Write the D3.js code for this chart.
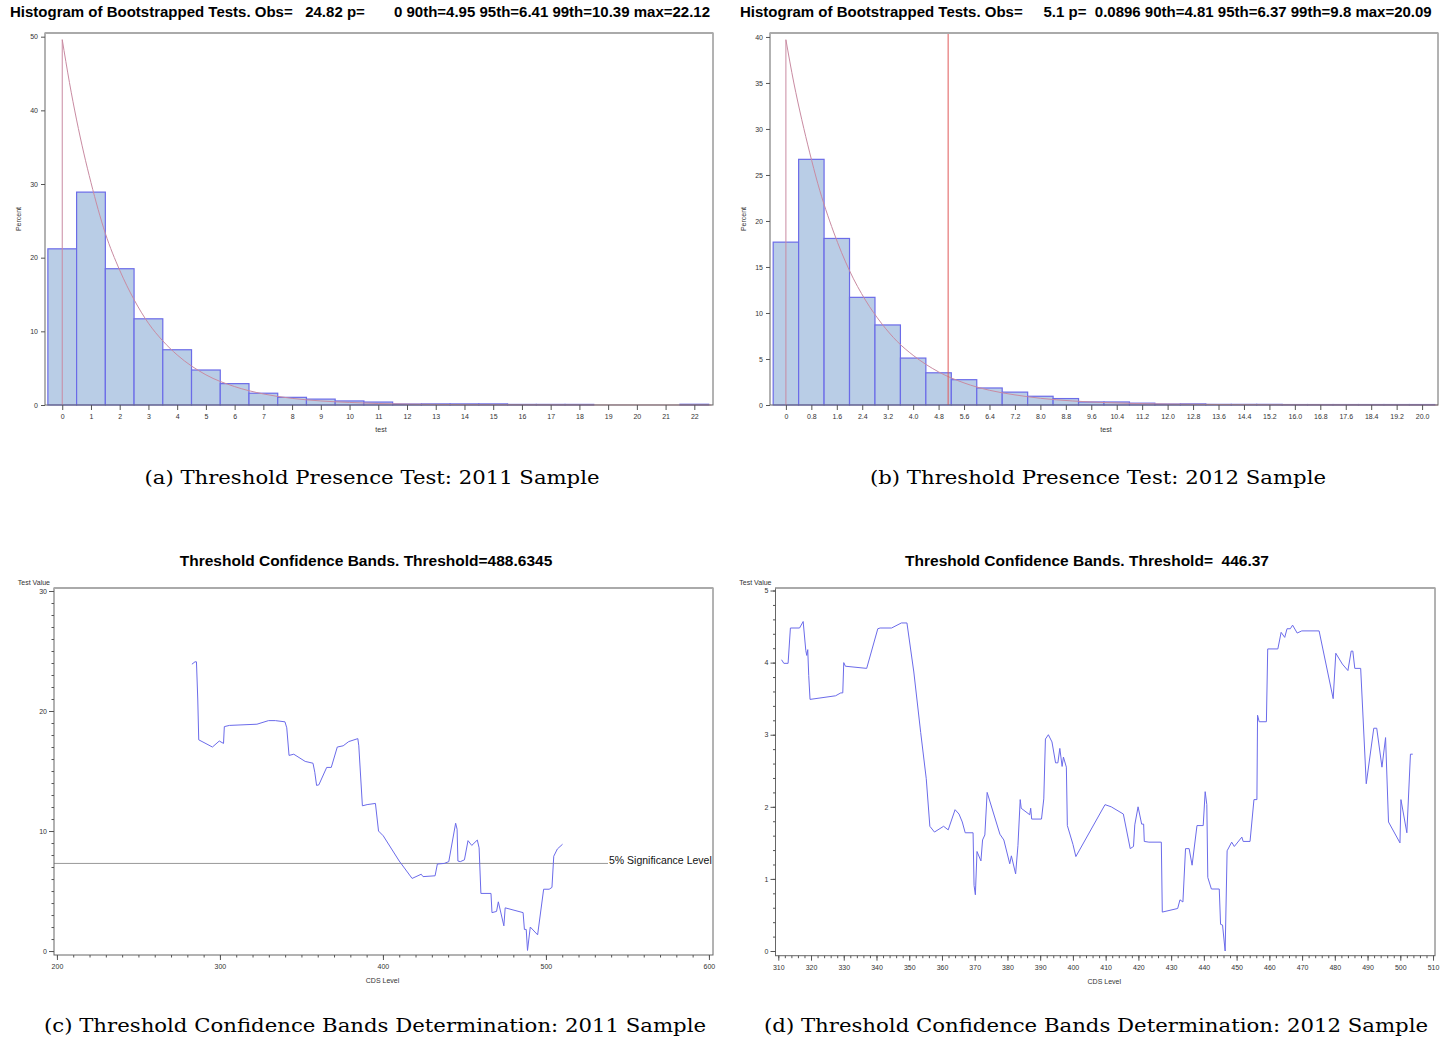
<!DOCTYPE html>
<html>
<head>
<meta charset="utf-8">
<script src="https://cdn.jsdelivr.net/npm/d3@7"></script>
<style>
  body { margin: 0; background: #fff; }
  text { font-family: "Liberation Sans", Arial, sans-serif; }
  .pre { white-space: pre; }
  .cap { font-family: "DejaVu Serif", "Liberation Serif", serif; font-size: 19px; }
</style>
</head>
<body>
<script>
// --- panel (a): 2011 bootstrap histogram ---
const bins2011 = [0, 1, 2, 3, 4, 5, 6, 7, 8, 9, 10, 11, 12, 13, 14, 15, 16, 17, 18, 19, 20, 21, 22];
const pct2011 = [21.2, 28.9, 18.5, 11.7, 7.5, 4.75, 2.9, 1.6, 1.04, 0.8, 0.55, 0.4, 0.13, 0.15, 0.15, 0.15, 0.08, 0.08, 0.08, 0, 0, 0, 0.1];
const curveX2011 = [0, 0, 0.25, 0.5, 0.75, 1, 1.5, 2, 2.5, 3, 3.5, 4, 5, 6, 7, 8, 9, 10, 11, 12, 14, 16, 18, 22.6];
const curveY2011 = [0, 49.6, 43.8, 38.7, 34.2, 30.2, 23.3, 18.3, 14.3, 11.1, 8.7, 6.8, 4.1, 2.5, 1.5, 0.9, 0.55, 0.35, 0.2, 0.12, 0.05, 0.02, 0.01, 0];
const yTicks2011 = [0, 10, 20, 30, 40, 50];

// --- panel (b): 2012 bootstrap histogram ---
const bins2012 = [0, 0.8, 1.6, 2.4, 3.2, 4.0, 4.8, 5.6, 6.4, 7.2, 8.0, 8.8, 9.6, 10.4, 11.2, 12.0, 12.8, 13.6, 14.4, 15.2, 16.0, 16.8, 17.6, 18.4, 19.2, 20.0];
const pct2012 = [17.7, 26.7, 18.1, 11.7, 8.7, 5.1, 3.5, 2.75, 1.85, 1.4, 0.95, 0.7, 0.33, 0.33, 0.2, 0.1, 0.12, 0.07, 0.07, 0.07, 0.05, 0.05, 0.05, 0.05, 0.05, 0.05];
const curveX2012 = [0, 0, 0.25, 0.5, 0.75, 1, 1.5, 2, 2.5, 3, 3.5, 4, 4.8, 5.6, 6.4, 7.2, 8, 9, 10, 11, 12, 14, 16, 20.5];
const curveY2012 = [0, 39.7, 35, 31, 27.4, 24.1, 18.8, 14.6, 11.4, 8.9, 6.9, 5.4, 3.6, 2.4, 1.6, 1.1, 0.73, 0.44, 0.27, 0.16, 0.1, 0.04, 0.015, 0];
const yTicks2012 = [0, 5, 10, 15, 20, 25, 30, 35, 40];
const obs2012 = 5.1;

// --- panel (c): 2011 confidence bands ---
const cds2011 = [282.8, 284.7, 285.6, 286.4, 287, 295.4, 299.6, 302.2, 302.7, 305.8, 322.7, 329.8, 334, 339.9, 341, 342.4, 345.3, 352.3, 357.1, 358.2, 359.3, 360.7, 365.5, 368.3, 372, 375.6, 379, 384.6, 385.2, 387.4, 390.3, 395.4, 397.3, 400.2, 410, 417.9, 423.5, 424.6, 432, 433.4, 437.6, 440.4, 444.6, 445.5, 446, 447.5, 450, 452.2, 454.5, 457.9, 459, 460.1, 466.3, 466.9, 469.7, 470.8, 474.2, 475, 486, 486.8, 487.9, 488.7, 490.4, 494.9, 498.6, 502, 503.7, 504.8, 507, 510.2];
const test2011 = [23.9, 24.1, 24.1, 21.0, 17.6, 17.0, 17.5, 17.3, 18.7, 18.8, 18.9, 19.2, 19.2, 19.1, 18.6, 16.3, 16.4, 15.8, 15.65, 14.9, 13.8, 13.85, 15.3, 15.3, 17.0, 17.1, 17.45, 17.7, 17.1, 12.1, 12.2, 12.3, 10.0, 9.6, 7.5, 6.05, 6.4, 6.2, 6.27, 7.25, 7.3, 7.45, 10.65, 10.15, 7.5, 7.45, 7.6, 9.2, 8.8, 9.25, 8.6, 4.8, 4.8, 3.2, 3.3, 4.1, 2.1, 3.6, 3.2, 1.8, 1.8, 0.05, 2.0, 1.35, 5.15, 5.15, 5.3, 7.9, 8.5, 8.9];
const sigLevel2011 = 7.3;

// --- panel (d): 2012 confidence bands ---
const cds2012 = [311, 311.7, 313, 313.7, 316.5, 317.6, 318.4, 318.7, 319, 319.3, 319.7, 327.5, 329.1, 329.7, 330, 330.5, 337, 340.4, 341.1, 344.6, 347.6, 349.3, 351.4, 353.5, 355.2, 356.3, 357.7, 360.5, 361.9, 364, 365.2, 366.2, 367.1, 369.5, 369.8, 370.2, 370.7, 371.9, 372.4, 373.1, 373.8, 377.7, 378.9, 380.7, 381.2, 382.5, 383.2, 383.9, 384.2, 386.8, 387.1, 387.4, 390.4, 391.1, 391.6, 392.5, 393.6, 394.7, 395.4, 396, 396.7, 397.1, 398, 398.3, 400, 400.9, 409.8, 411.7, 415.4, 417.5, 418.5, 418.9, 419.9, 421, 421.6, 421.8, 423.2, 427, 427.3, 432, 432.7, 433.6, 434.4, 435.5, 436.4, 437.9, 439.8, 440.4, 440.9, 441.2, 442.3, 444.7, 445.1, 445.7, 446.5, 447.1, 448.5, 449.3, 451.6, 452, 454.1, 455.3, 456.2, 456.4, 456.9, 459.1, 459.5, 462.6, 463.6, 464.7, 465.4, 466.4, 467.1, 468.5, 469.9, 475.2, 479.5, 480.3, 482.3, 484, 485, 485.5, 486.1, 487.9, 489.6, 491.9, 492.8, 494.4, 495.5, 496.4, 499.9, 500.2, 502, 503.1, 503.8];
const test2012 = [4.04, 3.99, 3.99, 4.48, 4.48, 4.57, 4.17, 4.1, 4.18, 3.82, 3.49, 3.54, 3.58, 3.58, 4.0, 3.95, 3.92, 4.47, 4.48, 4.48, 4.55, 4.55, 3.87, 3.03, 2.39, 1.73, 1.65, 1.73, 1.68, 1.96, 1.9, 1.79, 1.64, 1.64, 0.91, 0.78, 1.38, 1.25, 1.54, 1.61, 2.2, 1.62, 1.54, 1.21, 1.32, 1.07, 1.46, 2.1, 1.98, 1.89, 1.98, 1.83, 1.83, 2.11, 2.94, 3.0, 2.9, 2.61, 2.61, 2.81, 2.56, 2.69, 2.55, 1.74, 1.48, 1.31, 2.03, 2.0, 1.9, 1.42, 1.45, 1.75, 2.0, 1.76, 1.76, 1.52, 1.51, 1.51, 0.54, 0.59, 0.71, 0.68, 1.42, 1.42, 1.19, 1.74, 1.74, 2.21, 2.03, 1.02, 0.86, 0.86, 0.37, 0.36, 0.0, 1.39, 1.51, 1.45, 1.58, 1.52, 1.52, 2.1, 2.1, 3.27, 3.18, 3.18, 4.19, 4.19, 4.42, 4.35, 4.47, 4.47, 4.52, 4.41, 4.44, 4.44, 3.5, 4.13, 3.98, 3.89, 4.16, 4.16, 3.92, 3.92, 2.32, 3.09, 3.09, 2.55, 2.96, 1.79, 1.5, 2.1, 1.64, 2.73, 2.73];

const histTitle2011 = "Histogram of Bootstrapped Tests. Obs=   24.82 p=       0 90th=4.95 95th=6.41 99th=10.39 max=22.12";
const histTitle2012 = "Histogram of Bootstrapped Tests. Obs=     5.1 p=  0.0896 90th=4.81 95th=6.37 99th=9.8 max=20.09";
const bandTitle2011 = "Threshold Confidence Bands. Threshold=488.6345";
const bandTitle2012 = "Threshold Confidence Bands. Threshold=  446.37";
const captions = [
  "(a) Threshold Presence Test: 2011 Sample",
  "(b) Threshold Presence Test: 2012 Sample",
  "(c) Threshold Confidence Bands Determination: 2011 Sample",
  "(d) Threshold Confidence Bands Determination: 2012 Sample"
];

const svg = d3.select("body").append("svg")
    .attr("width", 1440)
    .attr("height", 1040);

const axisColor = "#555";
const labelColor = "#333";

function styleAxis(g) {
    g.select(".domain").remove();
    g.selectAll(".tick line").attr("stroke", axisColor);
    g.selectAll(".tick text")
        .attr("fill", labelColor)
        .style("font-size", "7px");
}

function drawFrame(box) {
    svg.append("rect")
        .attr("x", box.left).attr("y", box.top)
        .attr("width", box.right - box.left)
        .attr("height", box.bottom - box.top)
        .attr("fill", "none")
        .attr("stroke", "#666");
    // top edge is drawn a bit heavier and lighter in the original
    svg.append("line")
        .attr("x1", box.left).attr("x2", box.right)
        .attr("y1", box.top).attr("y2", box.top)
        .attr("stroke", "#aaa").attr("stroke-width", 2);
}

function drawHistogram(cfg) {
    const box = cfg.box;
    const x = d3.scaleLinear().domain(cfg.xDomain).range([box.left, box.right]);
    const y = d3.scaleLinear().domain(cfg.yDomain).range([box.bottom, box.top]);
    const half = cfg.binWidth / 2;

    svg.append("g").selectAll("rect")
        .data(cfg.bins.map((b, i) => ({ b, v: cfg.values[i] })))
        .join("rect")
        .attr("x", d => x(d.b - half))
        .attr("width", d => x(d.b + half) - x(d.b - half))
        .attr("y", d => y(d.v))
        .attr("height", d => y(0) - y(d.v))
        .attr("fill", "#b9cde6")
        .attr("stroke", "#6b6be8")
        .attr("stroke-width", 1.2);

    // riser at x=0, then the fitted density (monotone can't take two equal x's)
    svg.append("line")
        .attr("x1", x(cfg.curveX[0])).attr("x2", x(cfg.curveX[1]))
        .attr("y1", y(cfg.curveY[0])).attr("y2", y(cfg.curveY[1]))
        .attr("stroke", "#c98ba2").attr("stroke-width", 1);
    svg.append("path")
        .datum(cfg.curveY.slice(1))
        .attr("d", d3.line()
            .x((d, i) => x(cfg.curveX[i + 1]))
            .y(d => y(d))
            .curve(d3.curveMonotoneX))
        .attr("fill", "none")
        .attr("stroke", "#c98ba2")
        .attr("stroke-width", 1);

    if (cfg.obs != null && cfg.obs < cfg.xDomain[1]) {
        svg.append("line")
            .attr("x1", x(cfg.obs)).attr("x2", x(cfg.obs))
            .attr("y1", y(0)).attr("y2", box.top)
            .attr("stroke", "#e05a5a").attr("stroke-width", 1);
    }

    drawFrame(box);

    svg.append("g")
        .attr("transform", `translate(0,${box.bottom})`)
        .call(d3.axisBottom(x).tickValues(cfg.bins).tickFormat(cfg.xFormat).tickSize(5).tickPadding(4))
        .call(styleAxis);
    svg.append("g")
        .attr("transform", `translate(${box.left},0)`)
        .call(d3.axisLeft(y).tickValues(cfg.yTicks).tickSize(4).tickPadding(3))
        .call(styleAxis);

    svg.append("text")
        .attr("x", (box.left + box.right) / 2 + 2).attr("y", box.bottom + 27)
        .attr("text-anchor", "middle")
        .attr("fill", labelColor)
        .style("font-size", "7px")
        .text("test");
    svg.append("text")
        .attr("transform", `translate(${box.left - 24},${(box.top + box.bottom) / 2}) rotate(-90)`)
        .attr("text-anchor", "middle")
        .attr("fill", labelColor)
        .style("font-size", "7px")
        .text("Percent");

    svg.append("text")
        .attr("class", "pre")
        .attr("x", cfg.titleX).attr("y", 17)
        .style("font-size", "15px").style("font-weight", "bold")
        .text(cfg.title);
}

function drawBands(cfg) {
    const box = cfg.box;
    const x = d3.scaleLinear().domain(cfg.xDomain).range([box.left, box.right]);
    const y = d3.scaleLinear().domain(cfg.yDomain).range([box.bottom, box.top]);

    if (cfg.sig != null) {
        svg.append("line")
            .attr("x1", box.left).attr("x2", cfg.sigEnd)
            .attr("y1", y(cfg.sig)).attr("y2", y(cfg.sig))
            .attr("stroke", "#999").attr("stroke-width", 1);
        svg.append("text")
            .attr("x", cfg.sigEnd + 1).attr("y", y(cfg.sig))
            .attr("dy", "0.1em")
            .attr("fill", "#111")
            .style("font-size", "10.5px")
            .text("5% Significance Level");
    }

    svg.append("path")
        .datum(cfg.values)
        .attr("d", d3.line().x((d, i) => x(cfg.cds[i])).y(d => y(d)))
        .attr("fill", "none")
        .attr("stroke", "#6b6bea")
        .attr("stroke-width", 1);

    drawFrame(box);

    svg.append("g")
        .attr("transform", `translate(0,${box.bottom})`)
        .call(d3.axisBottom(x).tickValues(cfg.xMinor).tickFormat("").tickSize(2.5))
        .call(styleAxis);
    svg.append("g")
        .attr("transform", `translate(0,${box.bottom})`)
        .call(d3.axisBottom(x).tickValues(cfg.xTicks).tickFormat(d3.format("d")).tickSize(5).tickPadding(4))
        .call(styleAxis);
    svg.append("g")
        .attr("transform", `translate(${box.left},0)`)
        .call(d3.axisLeft(y).tickValues(cfg.yMinor).tickFormat("").tickSize(2.5))
        .call(styleAxis);
    svg.append("g")
        .attr("transform", `translate(${box.left},0)`)
        .call(d3.axisLeft(y).tickValues(cfg.yTicks).tickFormat(d3.format("d")).tickSize(5).tickPadding(2))
        .call(styleAxis);

    svg.append("text")
        .attr("x", (box.left + box.right) / 2 - 1).attr("y", box.bottom + 28)
        .attr("text-anchor", "middle")
        .attr("fill", labelColor)
        .style("font-size", "7px")
        .text("CDS Level");
    svg.append("text")
        .attr("x", box.left - 4).attr("y", box.top - 3)
        .attr("text-anchor", "end")
        .attr("fill", labelColor)
        .style("font-size", "7px")
        .text("Test Value");

    svg.append("text")
        .attr("class", "pre")
        .attr("x", cfg.titleX).attr("y", 566)
        .attr("text-anchor", "middle")
        .style("font-size", "15.5px").style("font-weight", "bold")
        .text(cfg.title);
}

const fmt0 = d => d === 0 ? "0" : d3.format(".1f")(d);

drawHistogram({
    box: { left: 45, right: 713, top: 33, bottom: 405 },
    xDomain: [-0.6, 22.65], yDomain: [0, 50.5],
    bins: bins2011, values: pct2011, binWidth: 1,
    curveX: curveX2011, curveY: curveY2011,
    yTicks: yTicks2011, xFormat: d3.format("d"),
    obs: 24.82, title: histTitle2011, titleX: 10
});

drawHistogram({
    box: { left: 770, right: 1438, top: 33, bottom: 405 },
    xDomain: [-0.5, 20.5], yDomain: [0, 40.43],
    bins: bins2012, values: pct2012, binWidth: 0.8,
    curveX: curveX2012, curveY: curveY2012,
    yTicks: yTicks2012, xFormat: fmt0,
    obs: obs2012, title: histTitle2012, titleX: 740
});

drawBands({
    box: { left: 54, right: 713, top: 588, bottom: 955 },
    xDomain: [198.2, 602.5], yDomain: [-0.33, 30.25],
    cds: cds2011, values: test2011,
    xTicks: [200, 300, 400, 500, 600], xMinor: d3.range(200, 601, 10),
    yTicks: [0, 10, 20, 30], yMinor: d3.range(0, 31, 1),
    sig: sigLevel2011, sigEnd: 608,
    title: bandTitle2011, titleX: 366
});

drawBands({
    box: { left: 775.5, right: 1435, top: 588, bottom: 955.7 },
    xDomain: [309.15, 510.6], yDomain: [-0.065, 5.035],
    cds: cds2012, values: test2012,
    xTicks: d3.range(310, 511, 10), xMinor: d3.range(310, 511, 2),
    yTicks: [0, 1, 2, 3, 4, 5], yMinor: d3.range(0, 5.01, 0.2),
    sig: null,
    title: bandTitle2012, titleX: 1087
});

const capPos = [[372, 484], [1098, 484], [375, 1032], [1096, 1032]];
const capWidth = [455, 456, 662, 664];
captions.forEach((c, i) => {
    svg.append("text")
        .attr("class", "cap")
        .attr("x", capPos[i][0]).attr("y", capPos[i][1])
        .attr("text-anchor", "middle")
        .attr("textLength", capWidth[i])
        .attr("lengthAdjust", "spacingAndGlyphs")
        .text(c);
});
</script>
</body>
</html>
